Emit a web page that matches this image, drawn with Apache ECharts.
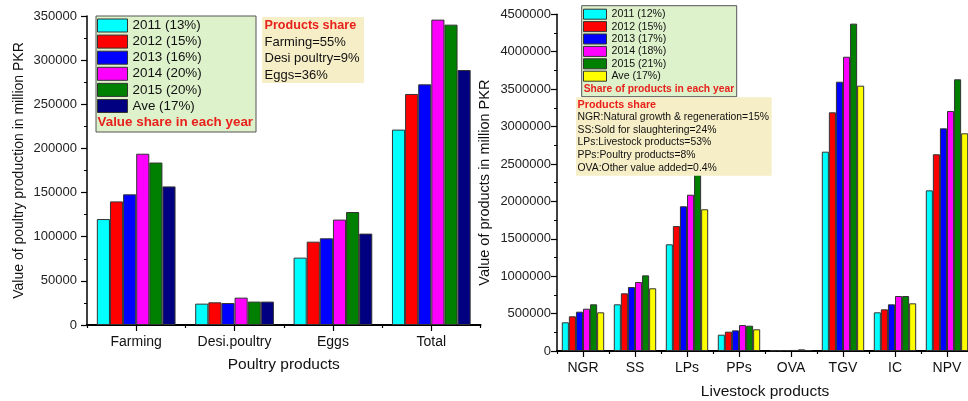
<!DOCTYPE html>
<html>
<head>
<meta charset="utf-8">
<script src="https://cdn.jsdelivr.net/npm/echarts@6/dist/echarts.min.js"></script>
<style>
  html, body { margin: 0; padding: 0; background: #fff; }
  #chart { width: 968px; height: 401px; }
</style>
</head>
<body>
<div id="chart"></div>
<script>
// ---------- Poultry products (left panel) ----------
const poultryCategories = ['Farming', 'Desi.poultry', 'Eggs', 'Total'];
const poultryNames = ['2011 (13%)', '2012 (15%)', '2013 (16%)', '2014 (20%)', '2015 (20%)', 'Ave (17%)'];
const poultry2011 = [120000, 24200, 76300, 221300];
const poultry2012 = [140000, 25700, 94400, 261700];
const poultry2013 = [148000, 24900, 98200, 272600];
const poultry2014 = [194000, 31000, 119400, 345900];
const poultry2015 = [184000, 26500, 128000, 340200];
const poultryAve  = [157000, 26500, 103500, 288800];
const poultryShareLines = ['Farming=55%', 'Desi poultry=9%', 'Eggs=36%'];

// ---------- Livestock products (right panel) ----------
const livestockCategories = ['NGR', 'SS', 'LPs', 'PPs', 'OVA', 'TGV', 'IC', 'NPV'];
const livestockNames = ['2011 (12%)', '2012 (15%)', '2013 (17%)', '2014 (18%)', '2015 (21%)', 'Ave (17%)'];
const livestock2011 = [383600, 624000, 1426000, 218000, 8000, 2664000, 517000, 2147000];
const livestock2012 = [463700, 771000, 1670000, 258000, 10000, 3190000, 557000, 2629000];
const livestock2013 = [525400, 855000, 1934000, 276000, 12000, 3599000, 624000, 2976000];
const livestock2014 = [565500, 922000, 2089000, 347000, 14000, 3933000, 735000, 3208000];
const livestock2015 = [624000, 1011000, 2400000, 338000, 22000, 4375000, 735000, 3631000];
const livestockAve  = [517000, 838000, 1894000, 290000, 13000, 3546000, 637000, 2909000];
const livestockShareLines = [
  'NGR:Natural growth & regeneration=15%',
  'SS:Sold for slaughtering=24%',
  'LPs:Livestock products=53%',
  'PPs:Poultry products=8%',
  'OVA:Other value added=0.4%'
];

const poultryColors = ['#00ffff', '#ff0000', '#0000ff', '#ff00ff', '#008000', '#000080'];
const livestockColors = ['#00ffff', '#ff0000', '#0000ff', '#ff00ff', '#008000', '#ffff00'];

const FONT = '"Liberation Sans", Arial, sans-serif';
const poultryData = [poultry2011, poultry2012, poultry2013, poultry2014, poultry2015, poultryAve];
const livestockData = [livestock2011, livestock2012, livestock2013, livestock2014, livestock2015, livestockAve];

function barSeries(names, data, colors, axisIdx, gap) {
  return names.map((n, i) => ({
    type: 'bar',
    name: n,
    xAxisIndex: axisIdx,
    yAxisIndex: axisIdx,
    data: data[i],
    barGap: '0%',
    barCategoryGap: gap,
    itemStyle: { color: colors[i], borderColor: '#333', borderWidth: 1 },
    emphasis: { disabled: true },
    z: 2
  }));
}

function valueAxis(gridIndex, max, interval, nameGap, name, nameSize, labelMargin) {
  return {
    type: 'value', gridIndex, min: 0, max, interval,
    name, nameLocation: 'middle', nameGap,
    nameTextStyle: { fontFamily: FONT, fontSize: nameSize, color: '#111' },
    axisLine: { show: true, lineStyle: { color: '#000', width: 1.5 } },
    axisTick: { show: true, length: 6, lineStyle: { color: '#000', width: 1.2 } },
    minorTick: { show: true, splitNumber: 2, length: 3, lineStyle: { color: '#000', width: 1 } },
    axisLabel: { fontFamily: FONT, fontSize: 13, color: '#222', margin: labelMargin,
                 formatter: v => String(v) },
    splitLine: { show: false }
  };
}

function catAxis(gridIndex, cats, name, nameGap) {
  return {
    type: 'category', gridIndex, data: cats,
    name, nameLocation: 'middle', nameGap,
    nameTextStyle: { fontFamily: FONT, fontSize: 15.5, color: '#111' },
    axisLine: { show: true, lineStyle: { color: '#000', width: 2 } },
    axisTick: { show: true, alignWithLabel: true, length: 6, lineStyle: { color: '#000', width: 1.2 } },
    axisLabel: { fontFamily: FONT, fontSize: 14, color: '#111', margin: 10 },
    splitLine: { show: false }
  };
}

// secondary category axes carry the short boundary ticks between groups
function boundaryAxis(gridIndex, cats) {
  return {
    type: 'category', gridIndex, data: cats, position: 'bottom',
    axisLine: { show: false },
    axisTick: { show: true, alignWithLabel: false, length: 3, lineStyle: { color: '#000', width: 1.2 } },
    axisLabel: { show: false },
    splitLine: { show: false }
  };
}

function textLine(text, x, y, size, color, bold) {
  return {
    type: 'text', z: 16,
    style: {
      text, x, y,
      fontFamily: FONT, fontSize: size, fontWeight: bold ? 'bold' : 'normal',
      fill: color, verticalAlign: 'middle', align: 'left'
    }
  };
}

const graphics = [
  // left legend panel
  { type: 'rect', z: 15, shape: { x: 96, y: 16, width: 160, height: 116 },
    style: { fill: '#ddf2cb', stroke: '#555', lineWidth: 1 } },
  textLine('Value share in each year', 97.5, 122.5, 13.4, '#e8211c', true),
  // left products-share note
  { type: 'rect', z: 15, shape: { x: 262, y: 17, width: 102, height: 66 },
    style: { fill: '#f6eec6', stroke: null } },
  textLine('Products share', 264.5, 25.5, 12.6, '#e8211c', true),
  ...poultryShareLines.map((t, i) => textLine(t, 264.5, 42.3 + i * 16.5, 13, '#111', false)),
  // right legend panel
  { type: 'rect', z: 15, shape: { x: 581.7, y: 5.7, width: 155, height: 91 },
    style: { fill: '#ddf2cb', stroke: '#555', lineWidth: 1 } },
  textLine('Share of products in each year', 583.7, 89.3, 10.3, '#e8211c', true),
  // right products-share note (drawn above the bars)
  { type: 'rect', z: 15, shape: { x: 576, y: 97.3, width: 195.7, height: 78.4 },
    style: { fill: '#f6eec6', stroke: null } },
  textLine('Products share', 577.5, 104.7, 10.8, '#e8211c', true),
  ...livestockShareLines.map((t, i) => textLine(t, 577.5, 117.5 + i * 12.55, 10.4, '#111', false))
];

const option = {
  animation: false,
  backgroundColor: '#fff',
  grid: [
    { left: 87, top: 16, width: 393.5, height: 309, containLabel: false, outerBoundsMode: 'none' },
    { left: 557, top: 14.3, width: 416, height: 336.7, containLabel: false, outerBoundsMode: 'none' }
  ],
  xAxis: [
    catAxis(0, poultryCategories, 'Poultry products', 32),
    catAxis(1, livestockCategories, 'Livestock products', 33),
    boundaryAxis(0, poultryCategories),
    boundaryAxis(1, livestockCategories)
  ],
  yAxis: [
    valueAxis(0, 350000, 50000, 61, 'Value of poultry production in million PKR', 14, 10),
    valueAxis(1, 4500000, 500000, 65, 'Value of products in million PKR', 14.5, 6)
  ],
  legend: [
    {
      orient: 'vertical', left: 97, top: 18.5, padding: 0, z: 20,
      itemWidth: 30, itemHeight: 13, itemGap: 2.1, icon: 'rect',
      selectedMode: false,
      textStyle: { fontFamily: FONT, fontSize: 13.4, color: '#111' },
      data: poultryNames.map((n, i) => ({ name: n, itemStyle: { color: poultryColors[i], borderColor: '#333', borderWidth: 1 } }))
    },
    {
      orient: 'vertical', left: 583, top: 8.7, padding: 0, z: 20,
      itemWidth: 23, itemHeight: 10, itemGap: 1.4, icon: 'rect',
      selectedMode: false,
      textStyle: { fontFamily: FONT, fontSize: 10.6, color: '#111' },
      data: livestockNames.map((n, i) => ({ name: n, itemStyle: { color: livestockColors[i], borderColor: '#333', borderWidth: 1 } }))
    }
  ],
  graphic: { elements: graphics },
  series: [
    ...barSeries(poultryNames, poultryData, poultryColors, 0, '20%'),
    ...barSeries(livestockNames, livestockData, livestockColors, 1, '18.5%')
  ]
};

const chart = echarts.init(document.getElementById('chart'), null, { renderer: 'canvas' });
chart.setOption(option);
</script>
</body>
</html>
